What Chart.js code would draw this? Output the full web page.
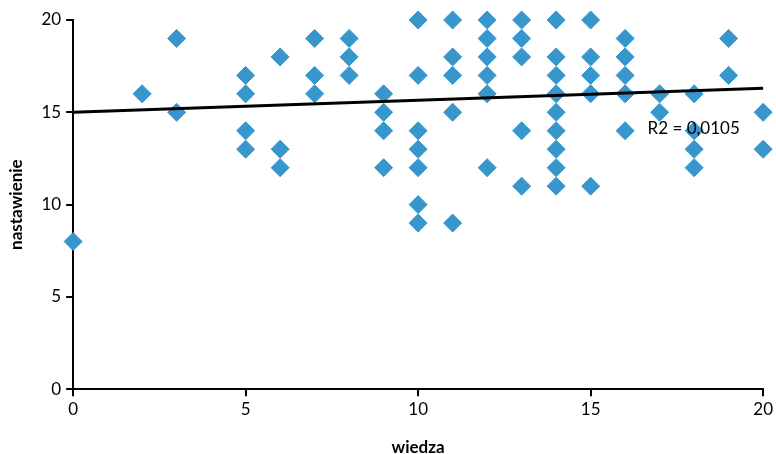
<!DOCTYPE html>
<html>
<head>
<meta charset="utf-8">
<script src="https://cdn.jsdelivr.net/npm/chart.js@4"></script>
<style>
  html, body { margin: 0; padding: 0; background: #fff; }
  #wrap { width: 776px; height: 454px; }
</style>
</head>
<body>
<div id="wrap"><canvas id="scatterChart"></canvas></div>
<script>
// dane: wiedza (x) i nastawienie (y)
const wiedza = [
  0,
  2,
  3, 3,
  5, 5, 5, 5,
  6, 6, 6,
  7, 7, 7,
  8, 8, 8,
  9, 9, 9, 9,
  10, 10, 10, 10, 10, 10, 10,
  11, 11, 11, 11, 11,
  12, 12, 12, 12, 12, 12,
  13, 13, 13, 13, 13,
  14, 14, 14, 14, 14, 14, 14, 14, 14,
  15, 15, 15, 15, 15,
  16, 16, 16, 16, 16,
  17, 17,
  18, 18, 18, 18,
  19, 19,
  20, 20
];
const nastawienie = [
  8,
  16,
  19, 15,
  17, 16, 14, 13,
  18, 13, 12,
  19, 17, 16,
  19, 18, 17,
  16, 15, 14, 12,
  20, 17, 14, 13, 12, 10, 9,
  20, 18, 17, 15, 9,
  20, 19, 18, 17, 16, 12,
  20, 19, 18, 14, 11,
  20, 18, 17, 16, 15, 14, 13, 12, 11,
  20, 18, 17, 16, 11,
  19, 18, 17, 16, 14,
  16, 15,
  16, 14, 13, 12,
  19, 17,
  15, 13
];
// linia trendu
const trendX = [0, 20];
const trendY = [15.0, 16.3];
const r2Label = 'R2 = 0,0105';
const xTicks = [0, 5, 10, 15, 20];
const yTicks = [0, 5, 10, 15, 20];

const fontFamily = 'Lato, "Open Sans", sans-serif';

// etykieta R2 przy linii trendu
const r2Plugin = {
  id: 'r2Plugin',
  afterDatasetsDraw(chart) {
    const { ctx, scales } = chart;
    ctx.save();
    ctx.font = '17px ' + fontFamily;
    ctx.fillStyle = '#000';
    ctx.textAlign = 'left';
    ctx.textBaseline = 'middle';
    ctx.fillText(r2Label, scales.x.getPixelForValue(16.65), scales.y.getPixelForValue(14.1));
    ctx.restore();
  }
};

const ctx = document.getElementById('scatterChart').getContext('2d');
new Chart(ctx, {
  type: 'scatter',
  data: {
    datasets: [
      {
        type: 'line',
        data: trendX.map((x, i) => ({ x: x, y: trendY[i] })),
        borderColor: '#000',
        borderWidth: 3,
        pointRadius: 0,
        fill: false,
        order: 0,
        clip: false
      },
      {
        data: wiedza.map((x, i) => ({ x: x, y: nastawienie[i] })),
        pointStyle: 'rectRot',
        pointRadius: 9,
        pointHoverRadius: 9,
        backgroundColor: '#3797cc',
        borderColor: '#3797cc',
        borderWidth: 1,
        order: 1,
        clip: false
      }
    ]
  },
  options: {
    responsive: true,
    maintainAspectRatio: false,
    animation: false,
    layout: {
      padding: { top: 20, right: 8, left: 6, bottom: -4 }
    },
    plugins: {
      legend: { display: false },
      tooltip: { enabled: false }
    },
    scales: {
      x: {
        type: 'linear',
        min: 0,
        max: 20,
        afterBuildTicks: axis => { axis.ticks = xTicks.map(v => ({ value: v })); },
        grid: {
          drawOnChartArea: false,
          drawTicks: true,
          tickLength: 7,
          color: '#000',
          lineWidth: 2
        },
        border: { display: true, color: '#000', width: 2 },
        ticks: {
          color: '#000',
          font: { family: fontFamily, size: 17 },
          padding: 3,
          maxRotation: 0
        },
        title: {
          display: true,
          text: 'wiedza',
          color: '#000',
          font: { family: fontFamily, size: 17, weight: 'bold' },
          padding: { top: 15, bottom: 0 }
        }
      },
      y: {
        type: 'linear',
        min: 0,
        max: 20,
        afterBuildTicks: axis => { axis.ticks = yTicks.map(v => ({ value: v })); },
        grid: {
          drawOnChartArea: false,
          drawTicks: true,
          tickLength: 7,
          color: '#000',
          lineWidth: 2
        },
        border: { display: true, color: '#000', width: 2 },
        ticks: {
          color: '#000',
          font: { family: fontFamily, size: 17 },
          padding: 5
        },
        title: {
          display: true,
          text: 'nastawienie',
          color: '#000',
          font: { family: fontFamily, size: 17, weight: 'bold' },
          padding: { top: 0, bottom: 10 }
        }
      }
    }
  },
  plugins: [r2Plugin]
});
</script>
</body>
</html>
